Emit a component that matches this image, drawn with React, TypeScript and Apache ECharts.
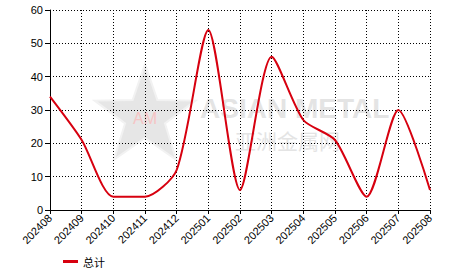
import React, { useEffect, useRef } from "react";
import * as echarts from "echarts";

const categories = ["202408","202409","202410","202411","202412","202501","202502","202503","202504","202505","202506","202507","202508"];
const totals = [34, 21, 4, 4, 12, 54, 6, 46, 27, 21, 4, 30, 6];
const seriesName = "总计";

function starPoints(cx: number, cy: number, R: number, r: number) {
  const pts: number[][] = [];
  for (let i = 0; i < 10; i++) {
    const rad = i % 2 === 0 ? R : r;
    const a = -Math.PI / 2 + (i * Math.PI) / 5;
    pts.push([cx + rad * Math.cos(a), cy + rad * Math.sin(a)]);
  }
  return pts;
}

export default function App() {
  const ref = useRef<HTMLDivElement>(null);
  useEffect(() => {
    if (!ref.current) return;
    const chart = echarts.init(ref.current, undefined, { renderer: "svg" });
    const font = "'Liberation Sans', Arial, sans-serif";
    chart.setOption({
      animation: false,
      textStyle: { fontFamily: font },
      graphic: [
        { type: "polygon", z: -10, shape: { points: starPoints(145, 117, 53, 21) }, style: { fill: "#e6e6e6", stroke: "#f2f2f2", lineWidth: 2 } },
        { type: "text", z: -9, x: 145, y: 118, style: { text: "AM", fill: "#f6c4c4", font: "16px " + font, align: "center", verticalAlign: "middle" } },
        { type: "text", z: -9, x: 200, y: 108, style: { text: "ASIAN METAL", fill: "#e4e4e4", font: "bold 28px " + font, verticalAlign: "middle" } },
        { type: "text", z: -9, x: 235, y: 140, style: { text: "亚洲金属网", fill: "#e4e4e4", font: "21px 'Noto Sans CJK SC'", verticalAlign: "middle" } },
      ],
      grid: { left: 50, right: 36, top: 10, bottom: 62, containLabel: false },
      legend: {
        left: 58, top: 251, icon: "rect", itemWidth: 15, itemHeight: 3, itemGap: 6,
        textStyle: { fontSize: 11, color: "#000", fontFamily: "'Noto Sans CJK SC'" },
        data: [seriesName],
      },
      xAxis: {
        type: "category", data: categories, boundaryGap: false,
        axisLine: { lineStyle: { color: "#000", width: 1 } },
        axisTick: { show: true, length: 4, lineStyle: { color: "#000" } },
        axisLabel: { rotate: 45, fontSize: 11, color: "#000", margin: 6, interval: 0 },
        splitLine: { show: true, lineStyle: { color: "#000", type: [1, 2], width: 1 } },
      },
      yAxis: {
        type: "value", min: 0, max: 60, interval: 10,
        axisLine: { show: true, lineStyle: { color: "#000", width: 1 } },
        axisTick: { show: true, length: 5, lineStyle: { color: "#000" } },
        axisLabel: { fontSize: 11, color: "#000", margin: 7 },
        splitLine: { show: true, lineStyle: { color: "#000", type: [1, 2], width: 1 } },
      },
      series: [{
        name: seriesName, type: "line", data: totals, smooth: 0.25, showSymbol: false, symbol: "none",
        lineStyle: { color: "#d7000f", width: 2 }, itemStyle: { color: "#d7000f" },
      }],
    });
    return () => chart.dispose();
  }, []);
  return <div ref={ref} style={{ width: 466, height: 272, position: "absolute", left: 0, top: 0 }} />;
}
